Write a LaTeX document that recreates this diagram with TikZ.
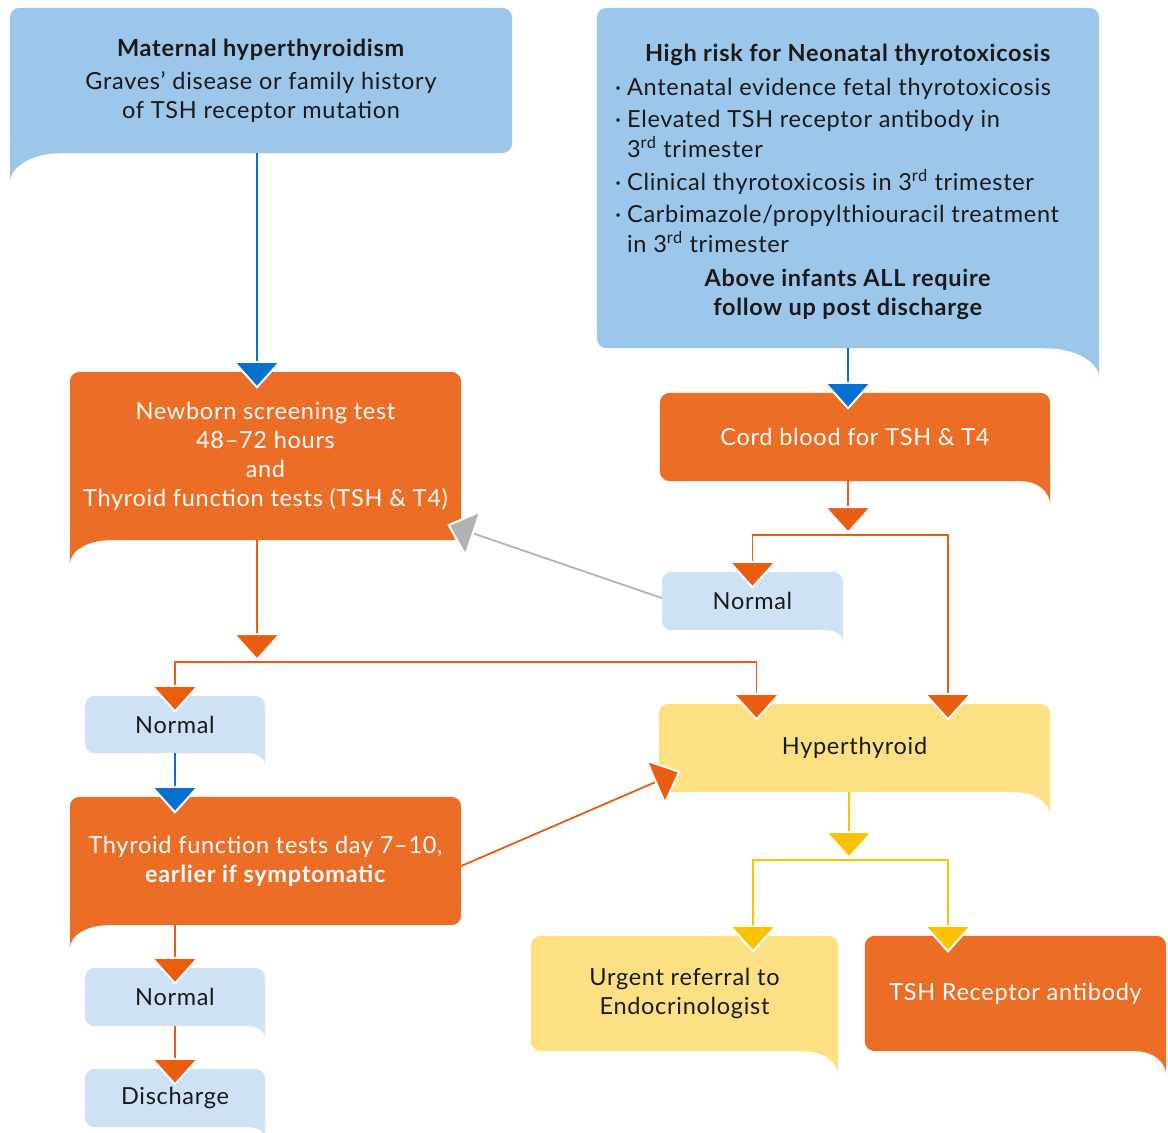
\documentclass[tikz,border=0pt]{standalone}
\usepackage{fontspec}
\setmainfont{Lato}[LetterSpace=3]
\usetikzlibrary{arrows.meta,positioning,calc,backgrounds}
\definecolor{skyblue}{RGB}{157,198,235}
\definecolor{paleblue}{RGB}{207,226,245}
\definecolor{boxorange}{RGB}{236,109,38}
\definecolor{paleyellow}{RGB}{253,224,132}
\definecolor{lineblue}{RGB}{8,112,206}
\definecolor{lineorange}{RGB}{234,92,14}
\definecolor{lineyellow}{RGB}{250,194,0}
\definecolor{linegray}{RGB}{178,178,178}
\definecolor{inkblack}{RGB}{26,26,26}

% box with a tail under its left / right bottom corner
\newcommand\boxtailL[4]{%
  \fill[#2, rounded corners=10pt] (#1.south west) rectangle (#1.north east);
  \fill[#2] ($(#1.south west)+(0,-12)$) -- ($(#1.south west)+(0,#4)$)
    .. controls ($(#1.south west)+(0,#4*0.45)$) and ($(#1.south west)+(#3*0.45,0)$) .. ($(#1.south west)+(#3,0)$)
    -- ($(#1.south west)+(#3,-12)$) -- cycle;}
\newcommand\boxtailR[4]{%
  \fill[#2, rounded corners=10pt] (#1.south west) rectangle (#1.north east);
  \fill[#2] ($(#1.south east)+(0,-12)$) -- ($(#1.south east)+(0,#4)$)
    .. controls ($(#1.south east)+(0,#4*0.45)$) and ($(#1.south east)+(-#3*0.45,0)$) .. ($(#1.south east)+(-#3,0)$)
    -- ($(#1.south east)+(-#3,-12)$) -- cycle;}

\tikzset{
  box/.style={inner sep=0pt, align=center, text=inkblack, font=\fontsize{23.5}{29}\selectfont},
  obox/.style={box, text=white},
  flowarrow/.style={draw=#1, line width=1.8pt, shorten >=-17pt,
    -{Triangle[width=50pt,length=28pt,fill=#1,color=white,line width=2pt]}},
  bflow/.style={flowarrow=lineblue},
  oflow/.style={flowarrow=lineorange},
  yflow/.style={flowarrow=lineyellow},
  gflow/.style={flowarrow=linegray},
}

\begin{document}
\begin{tikzpicture}[x=1pt,y=-1pt]
  \useasboundingbox (0,0) rectangle (1168,1133);

  \node[box, minimum width=502pt, minimum height=145pt] (mother) at (261,80.5)
    {\textbf{Maternal hyperthyroidism}\\[4pt] Graves’ disease or family history\\ of TSH receptor mutation};
  \node[box, minimum width=502pt, minimum height=340pt] (risk) at (848,178)
    {\begin{tabular}{@{}l@{\hspace{6pt}}l@{\hspace{22pt}}}
      \multicolumn{2}{@{}c@{}}{\rule{0pt}{30pt}\textbf{High risk for Neonatal thyrotoxicosis}}\\[5pt]
      ·& Antenatal evidence fetal thyrotoxicosis\\[3pt]
      ·& Elevated TSH receptor antibody in\\
       & 3\textsuperscript{rd} trimester\\[3pt]
      ·& Clinical thyrotoxicosis in 3\textsuperscript{rd} trimester\\[3pt]
      ·& Carbimazole/propylthiouracil treatment\\
       & in 3\textsuperscript{rd} trimester\\[5pt]
      \multicolumn{2}{@{}c@{}}{\textbf{Above infants ALL require}}\\
      \multicolumn{2}{@{}c@{}}{\textbf{follow up post discharge}}
    \end{tabular}};

  \node[obox, minimum width=391pt, minimum height=168pt] (screen) at (265.5,456)
    {Newborn screening test\\ 48–72 hours\\ and\\ Thyroid function tests (TSH \& T4)};
  \node[obox, minimum width=390pt, minimum height=88pt] (cord) at (855,437) {Cord blood for TSH \& T4};
  \node[box, minimum width=181pt, minimum height=58pt] (normcord) at (752.5,601) {Normal};
  \node[box, minimum width=180pt, minimum height=57pt] (normscreen) at (175,724.5) {Normal};
  \node[box, minimum width=391pt, minimum height=88pt] (hyper) at (854.5,748) {Hyperthyroid};
  \node[obox, minimum width=391pt, minimum height=128pt] (tft) at (265.5,861)
    {Thyroid function tests day 7–10,\\ \textbf{earlier if symptomatic}};
  \node[box, minimum width=180pt, minimum height=58pt] (normtft) at (175,997) {Normal};
  \node[box, minimum width=180pt, minimum height=58pt] (discharge) at (175,1098) {Discharge};
  \node[box, minimum width=307pt, minimum height=115pt] (referral) at (684.5,993.5)
    {Urgent referral to\\ Endocrinologist};
  \node[obox, minimum width=301pt, minimum height=115pt] (trab) at (1015.5,993.5) {TSH Receptor antibody};

  % junctions and entry points
  \coordinate (jscreen) at (257,662);
  \coordinate (jcord) at (848,535);
  \coordinate (jhyper) at (849,860);
  \coordinate (hypin1) at ($(hyper.north)+(-98,0)$);
  \coordinate (hypin2) at ($(hyper.north)+(93.5,0)$);
  \coordinate (refin) at ($(referral.north)+(68.5,0)$);
  \coordinate (trabin) at ($(trab.north)+(-67.5,0)$);

  \draw[bflow] (mother.south -| jscreen) -- (screen.north -| jscreen);
  \draw[bflow] (risk.south -| jcord) -- (cord.north -| jcord);

  \draw[oflow, shorten >=1pt] (screen.south -| jscreen) -- (jscreen);
  \draw[oflow] (jscreen) -| (normscreen.north);
  \draw[oflow] (jscreen) -| (hypin1);

  \draw[oflow, shorten >=1pt] (cord.south -| jcord) -- (jcord);
  \draw[oflow] (jcord) -| (normcord.north);
  \draw[oflow] (jcord) -| (hypin2);

  \draw[gflow, shorten >=-2pt] ($(normcord.west)+(0,-3)$) -- ($(screen.south east)+(-12,-15)$);

  \draw[bflow] (normscreen.south) -- (tft.north -| normscreen.south);
  \draw[oflow, shorten >=-2pt] ($(tft.east)+(0,5)$) -- ($(hyper.west)+(20,24)$);

  \draw[yflow, shorten >=1pt] (hyper.south -| jhyper) -- (jhyper);
  \draw[yflow] (jhyper) -| (refin);
  \draw[yflow] (jhyper) -| (trabin);

  \draw[oflow] (tft.south -| normtft.north) -- (normtft.north);
  \draw[oflow] (normtft.south) -- (discharge.north);

  % box shapes
  \begin{scope}[on background layer]
    \boxtailL{mother}{skyblue}{50}{30}
    \boxtailR{risk}{skyblue}{54}{30}
    \boxtailL{screen}{boxorange}{40}{24}
    \boxtailR{cord}{boxorange}{28}{24}
    \boxtailR{normcord}{paleblue}{16}{12}
    \boxtailR{normscreen}{paleblue}{16}{13}
    \boxtailR{hyper}{paleyellow}{34}{24}
    \boxtailL{tft}{boxorange}{38}{23}
    \boxtailR{normtft}{paleblue}{16}{12}
    \boxtailR{discharge}{paleblue}{16}{12}
    \boxtailR{referral}{paleyellow}{34}{24}
    \boxtailR{trab}{boxorange}{30}{24}
  \end{scope}
\end{tikzpicture}
\end{document}
